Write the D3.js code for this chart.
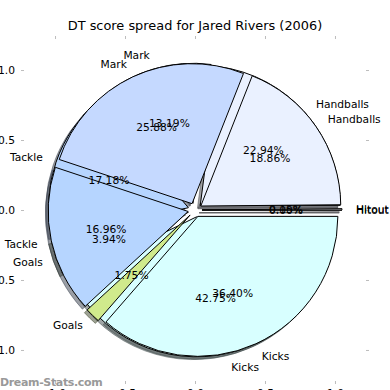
<!DOCTYPE html>
<html><head><meta charset="utf-8">
<script src="https://cdn.jsdelivr.net/npm/d3@7"></script>
<style>
body{margin:0;background:#fff}
svg{display:block;font-family:"DejaVu Sans",sans-serif}
</style>
</head><body>
<svg id="c" width="390" height="390"></svg>
<script>
// ---- data ----
const categories = ["Hitout", "Handballs", "Mark", "Tackle", "Goals", "Kicks"];
const seriesBack = [0.00, 22.94, 13.19, 17.18, 3.94, 42.75];   // drawn first (underneath)
const seriesFront = [0.15, 18.86, 25.88, 16.96, 1.75, 36.40];  // drawn on top
const sliceColors = ["#f4f6ff", "#eaf1ff", "#c5d9ff", "#b6d5ff", "#d0ea8c", "#d8ffff"];
const tickValues = [-1, -0.5, 0, 0.5, 1];
const tickLabels = ["-1.0", "-0.5", "0.0", "0.5", "1.0"];
const titleText = "DT score spread for Jared Rivers (2006)";
const watermark = "Dream-Stats.com";

// ---- setup ----
const svg = d3.select("#c");
const lim = 1.243;
const x = d3.scaleLinear().domain([-lim, lim]).range([21, 369]);
const y = d3.scaleLinear().domain([-lim, lim]).range([384, 36]);
const R = x(1) - x(0);
const cx = x(0), cy = y(0);
const explode = 0.05;
const FS = 10.7;

const pie = d3.pie().sort(null).value(d => d)
  .startAngle(Math.PI / 2).endAngle(Math.PI / 2 - 2 * Math.PI);
const arc = d3.arc().innerRadius(0).outerRadius(R);
const fmt = d3.format(".2f");

function layout(values) {
  const total = d3.sum(values);
  return pie(values).map((d, i) => {
    const a = (d.startAngle + d.endAngle) / 2;
    return Object.assign({}, d, {
      i, a, frac: d.value / total,
      ox: explode * R * Math.sin(a), oy: -explode * R * Math.cos(a)
    });
  });
}
const pies = [layout(seriesBack), layout(seriesFront)];

// ---- axes (ticks only) ----
function styleAxis(g) {
  g.select(".domain").remove();
  g.selectAll(".tick line").attr("stroke", "#bdbdbd");
  g.selectAll(".tick text").attr("fill", "#000").style("font-size", FS + "px")
    .style("font-family", '"DejaVu Sans", sans-serif');
}
svg.append("g").attr("transform", `translate(0,${y(lim)})`)
  .call(d3.axisTop(x).tickValues(tickValues).tickSizeInner(-3).tickSizeOuter(0).tickFormat(""))
  .call(styleAxis);
svg.append("g").attr("transform", `translate(0,${y(-lim)})`)
  .call(d3.axisBottom(x).tickValues(tickValues).tickSizeInner(-3).tickSizeOuter(0).tickPadding(5.5)
    .tickFormat((d, i) => tickLabels[i]))
  .call(styleAxis);
svg.append("g").attr("transform", `translate(${x(-lim)},0)`)
  .call(d3.axisLeft(y).tickValues(tickValues).tickSizeInner(-3).tickSizeOuter(0).tickPadding(6)
    .tickFormat((d, i) => tickLabels[i]))
  .call(styleAxis);
svg.append("g").attr("transform", `translate(${x(lim)},0)`)
  .call(d3.axisRight(y).tickValues(tickValues).tickSizeInner(-3).tickSizeOuter(0).tickFormat(""))
  .call(styleAxis);

// ---- shadows ----
const plot = svg.append("g").attr("transform", `translate(${cx},${cy})`);
const sx = -0.02 * R, sy = 0.02 * R;
pies.forEach(p => {
  plot.append("g").selectAll("path").data(p).join("path")
    .attr("transform", d => `translate(${d.ox + sx},${d.oy + sy})`)
    .attr("d", arc)
    .attr("fill", d => { const c = d3.rgb(sliceColors[d.i]); return d3.rgb(c.r * 0.3, c.g * 0.3, c.b * 0.3); })
    .attr("fill-opacity", 0.5)
    .attr("stroke", d => { const c = d3.rgb(sliceColors[d.i]); return d3.rgb(c.r * 0.3, c.g * 0.3, c.b * 0.3); })
    .attr("stroke-opacity", 0.5)
    .attr("stroke-width", 1);
});
// ---- wedges ----
pies.forEach(p => {
  plot.append("g").selectAll("path").data(p).join("path")
    .attr("transform", d => `translate(${d.ox},${d.oy})`)
    .attr("d", arc)
    .attr("fill", d => sliceColors[d.i])
    .attr("stroke", "#000")
    .attr("stroke-width", 1)
    .attr("stroke-linejoin", "round");
});
// ---- texts ----
pies.forEach(p => {
  const tg = plot.append("g").style("font-size", FS + "px");
  tg.selectAll("text.lab").data(p).join("text").attr("class", "lab")
    .attr("x", d => d.ox + 1.1 * R * Math.sin(d.a))
    .attr("y", d => d.oy - 1.1 * R * Math.cos(d.a))
    .attr("dy", "0.36em")
    .attr("text-anchor", d => Math.sin(d.a) > 0 ? "start" : "end")
    .text(d => categories[d.i]);
  tg.selectAll("text.pct").data(p).join("text").attr("class", "pct")
    .attr("x", d => d.ox + 0.6 * R * Math.sin(d.a))
    .attr("y", d => d.oy - 0.6 * R * Math.cos(d.a))
    .attr("dy", "0.36em")
    .attr("text-anchor", "middle")
    .text(d => fmt(d.frac * 100) + "%");
});

// ---- title & watermark ----
svg.append("text").attr("x", cx).attr("y", 29.5).attr("text-anchor", "middle")
  .style("font-size", "12.9px").text(titleText);
svg.append("text").attr("x", 0).attr("y", 385.7)
  .style("font-size", "11px").style("font-weight", "bold").style("letter-spacing", "-0.35px")
  .attr("fill", "#999")
  .text(watermark);
</script>
</body></html>
